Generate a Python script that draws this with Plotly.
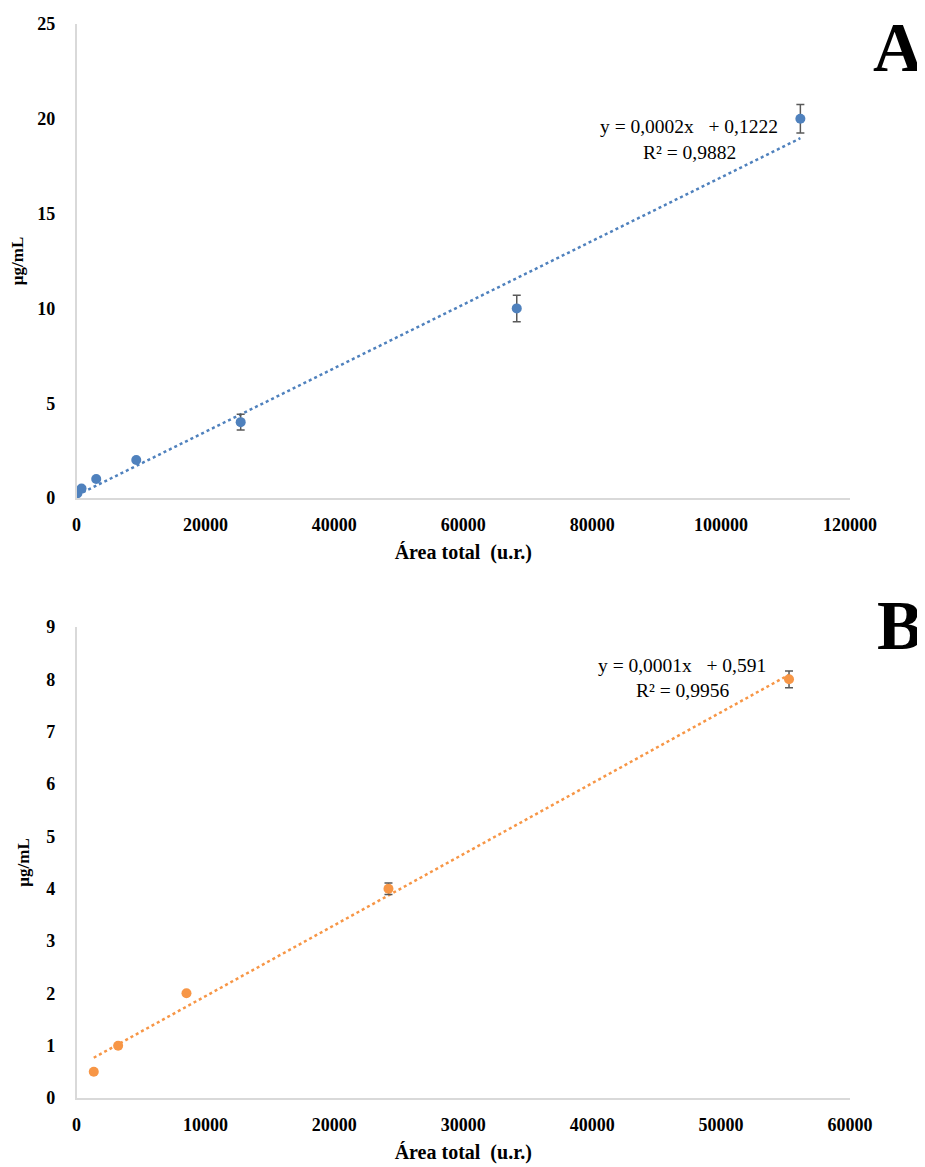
import numpy as np
import plotly.graph_objects as go

# Panel A data
a_x = [150, 780, 3060, 9270, 25470, 68300, 112300]
a_y = [0.25, 0.5, 1, 2, 4, 10, 20]
a_err = [0, 0, 0, 0, 0.42, 0.7, 0.75]
a_eq = "y = 0,0002x   + 0,1222"
a_r2 = "R² = 0,9882"

# Panel B data
b_x = [1340, 3230, 8530, 24200, 55270]
b_y = [0.5, 1, 2, 4, 8]
b_err = [0, 0, 0, 0.11, 0.16]
b_eq = "y = 0,0001x   + 0,591"
b_r2 = "R² = 0,9956"

x_title = "Área total  (u.r.)"
y_title = "µg/mL"

blue = "#4F81BD"
orange = "#F79646"
errc = "#595959"
axc = "#D9D9D9"
serif = "Liberation Serif, Times New Roman, serif"

# page body has an 8px margin
OFF = 8
W, H = 925 - OFF, 1167 - OFF
def px(x):
    return (x - OFF) / W
def py(y):
    return 1 - (y - OFF) / H

fig = go.Figure()

def add_panel(xs, ys, errs, color, xa, ya):
    k, b = np.polyfit(xs, ys, 1)
    lx = np.array([min(xs), max(xs)])
    fig.add_trace(go.Scatter(x=lx, y=k * lx + b, mode="lines",
                             line=dict(color=color, width=2.5, dash="dot"),
                             xaxis=xa, yaxis=ya, showlegend=False, hoverinfo="skip"))
    fig.add_trace(go.Scatter(x=xs, y=ys, mode="markers",
                             marker=dict(color=color, size=10),
                             error_y=dict(type="data", array=errs, color=errc,
                                          thickness=1.5, width=4),
                             xaxis=xa, yaxis=ya, showlegend=False))

add_panel(a_x, a_y, a_err, blue, "x", "y")
add_panel(b_x, b_y, b_err, orange, "x2", "y2")

xdom = [px(76.5), px(850)]
common_x = dict(showgrid=False, zeroline=False, showline=True, linecolor=axc, linewidth=1.5,
                ticks="", tickformat="d", automargin=False,
                tickfont=dict(family=serif, size=18, color="black", weight="bold"),
                ticklabelstandoff=10, domain=xdom,
                title=dict(text=x_title, font=dict(family=serif, size=20, color="black", weight="bold"),
                           standoff=11))
common_y = dict(showgrid=False, zeroline=False, showline=True, linecolor=axc, linewidth=1.5,
                ticks="", tickformat="d", automargin=False,
                tickfont=dict(family=serif, size=18, color="black", weight="bold"),
                ticklabelstandoff=16,
                title=dict(text=y_title, font=dict(family=serif, size=17, color="black", weight="bold"),
                           standoff=12))

fig.update_layout(
    width=W, height=H,
    margin=dict(l=0, r=0, t=0, b=0),
    plot_bgcolor="white", paper_bgcolor="white",
    xaxis=dict(common_x, range=[0, 120000], dtick=20000, anchor="y"),
    yaxis=dict(common_y, range=[0, 25], dtick=5, anchor="x",
               domain=[py(498), py(24)]),
    xaxis2=dict(common_x, range=[0, 60000], dtick=10000, anchor="y2"),
    yaxis2=dict(common_y, range=[0, 9], dtick=1, anchor="x2",
                domain=[py(1098), py(627)]),
)

eqfont = dict(family=serif, size=19.5, color="black")
fig.add_annotation(x=px(689), y=py(127), xref="paper", yref="paper",
                   text=a_eq, showarrow=False, font=eqfont, xanchor="center", yanchor="middle")
fig.add_annotation(x=px(689), y=py(152), xref="paper", yref="paper",
                   text=a_r2, showarrow=False, font=eqfont, xanchor="center", yanchor="middle")
fig.add_annotation(x=px(682), y=py(665), xref="paper", yref="paper",
                   text=b_eq, showarrow=False, font=eqfont, xanchor="center", yanchor="middle")
fig.add_annotation(x=px(682), y=py(690), xref="paper", yref="paper",
                   text=b_r2, showarrow=False, font=eqfont, xanchor="center", yanchor="middle")

letter_font = dict(family=serif, size=69, color="black", weight="bold")
fig.add_annotation(x=1.0, y=1.0, xref="paper", yref="paper", text="A",
                   showarrow=False, font=letter_font, xanchor="right", yanchor="top")
fig.add_annotation(x=1.0, y=py(626), xref="paper", yref="paper", text="B",
                   showarrow=False, font=letter_font, xanchor="right", yanchor="middle")

fig.write_html("out.html")
